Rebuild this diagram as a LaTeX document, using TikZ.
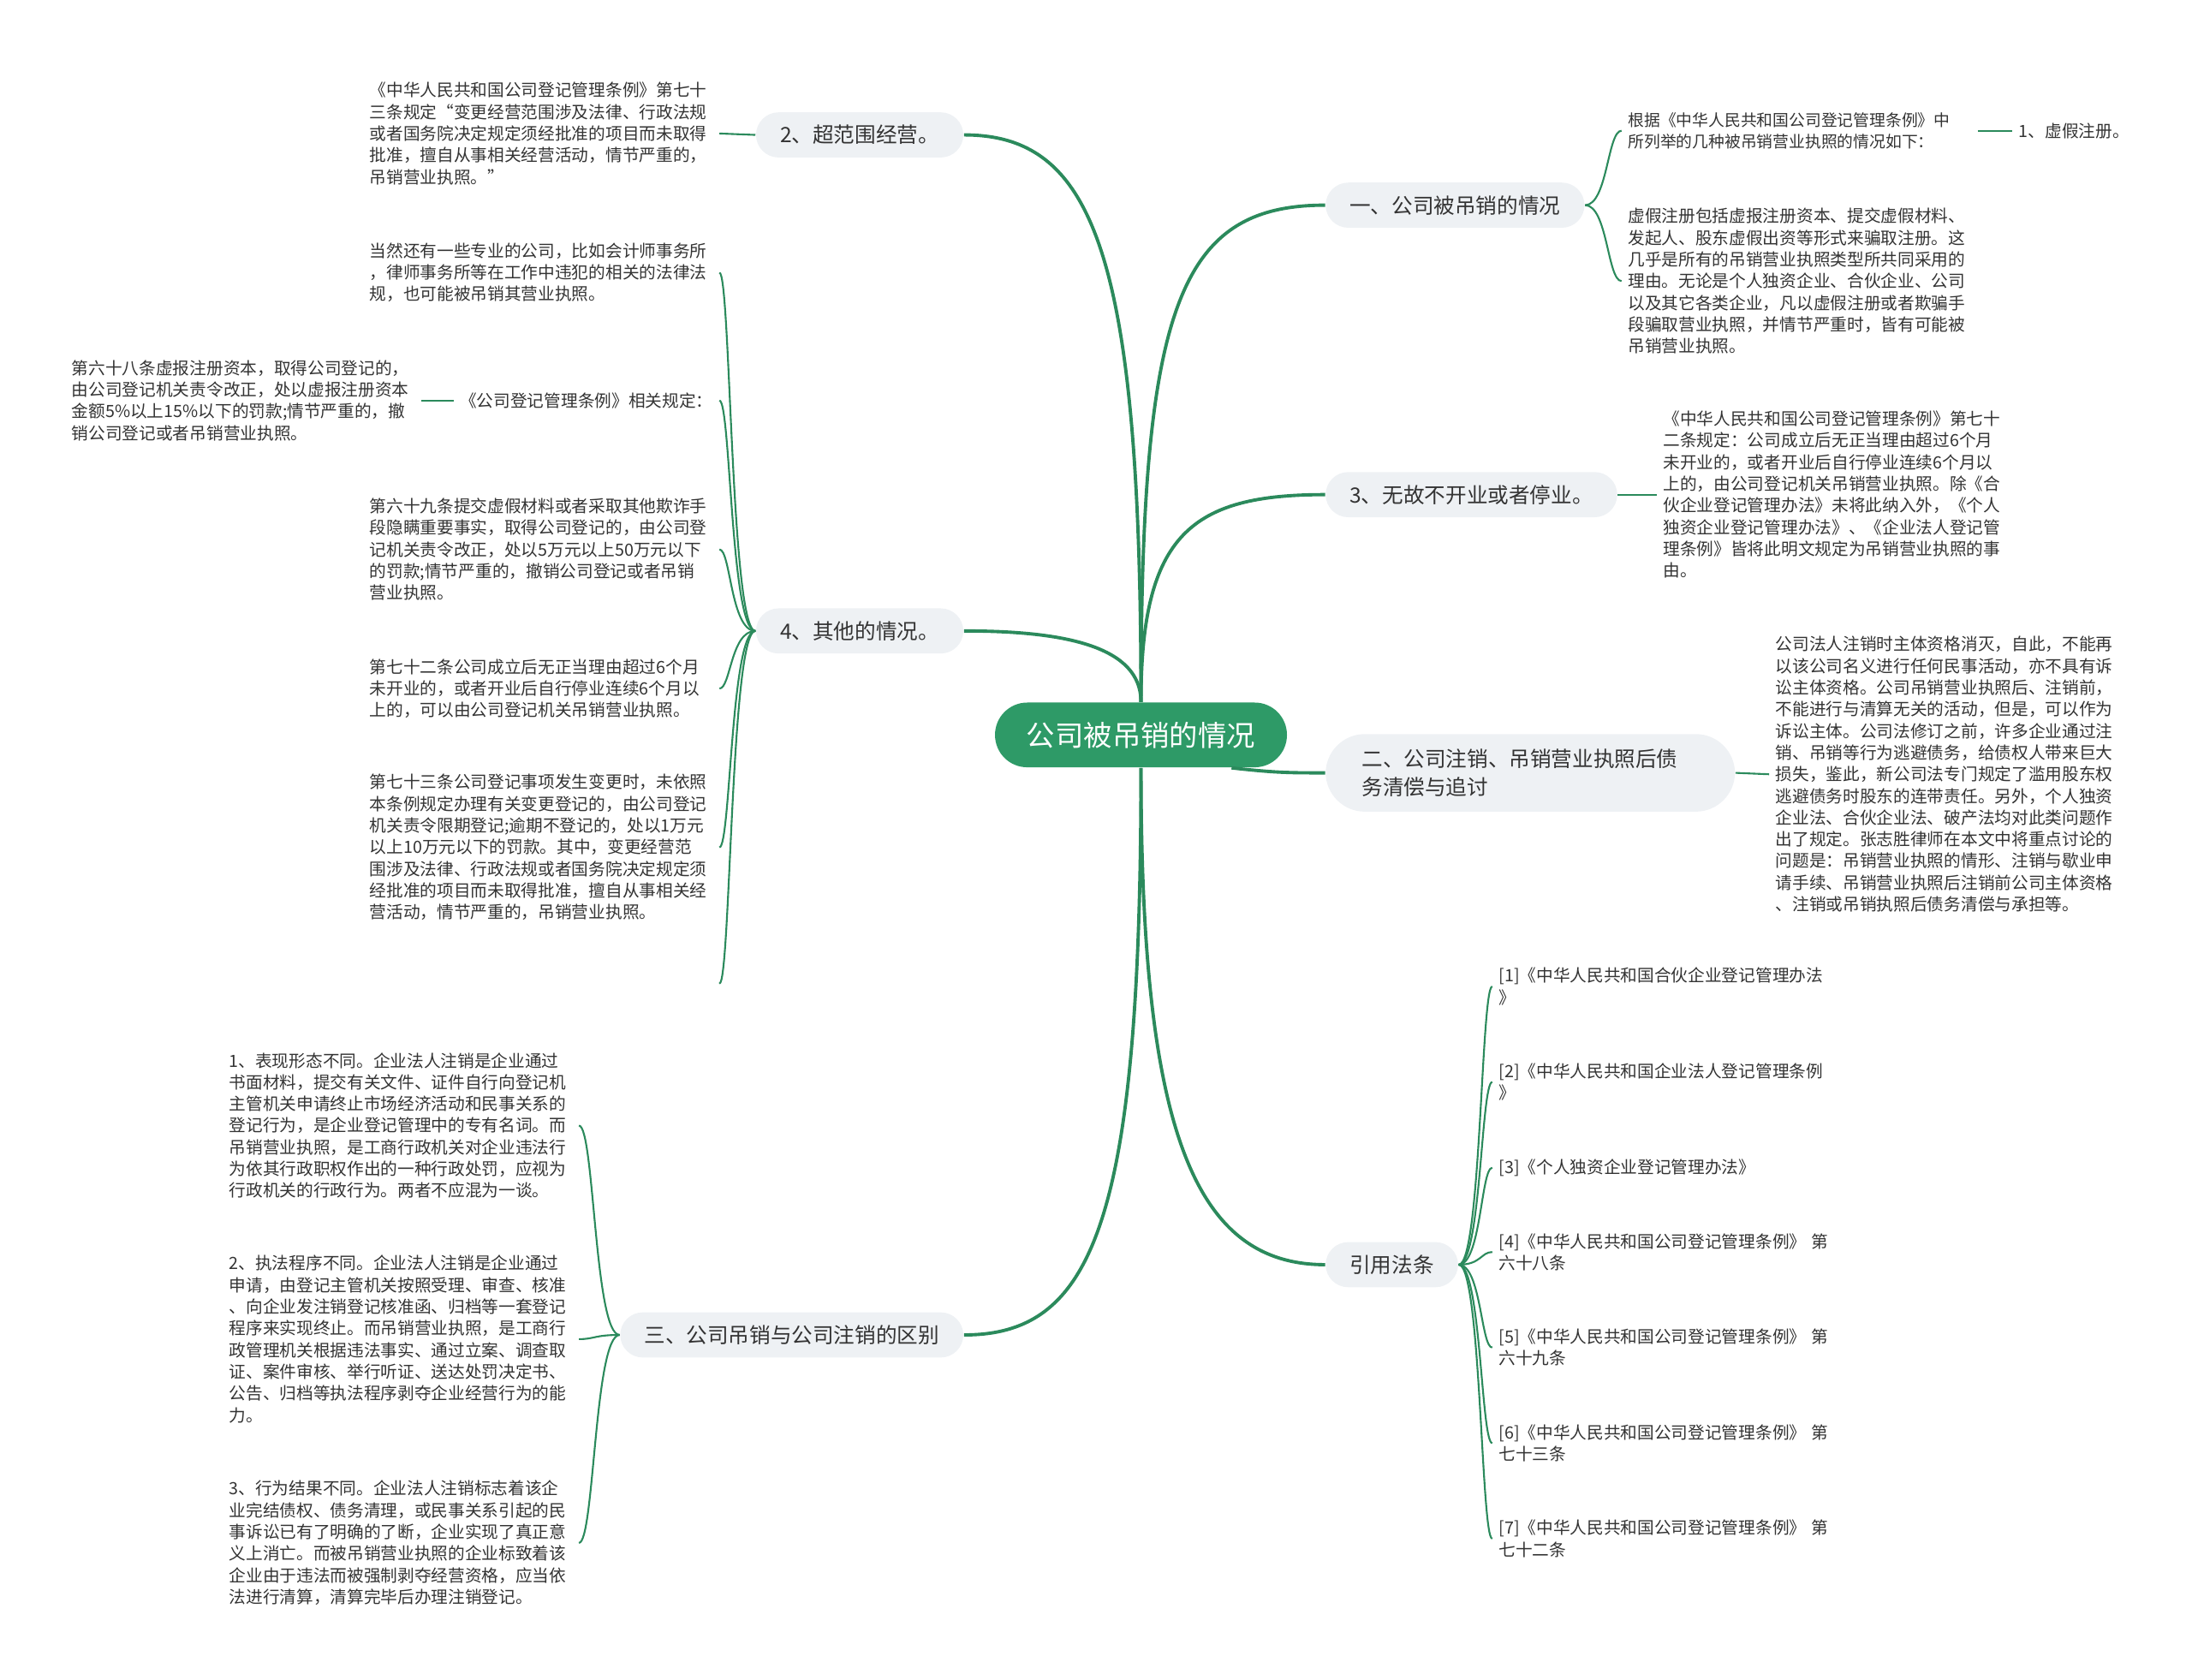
\documentclass[tikz,border=0pt]{standalone}
\usepackage{fontspec}
\setmainfont{Noto Sans CJK SC}
\definecolor{LG}{HTML}{2B8A5C}
\definecolor{RG}{HTML}{2E9A67}
\definecolor{BG}{HTML}{EEF1F4}
\definecolor{TX}{HTML}{333333}
\tikzset{
    RT/.style ={rectangle, rounded corners=10.7pt, fill=RG, text=white, font=\fontsize{9.5}{11}\selectfont, minimum width=97pt, minimum height=21.5pt},
    BR/.style ={rectangle, rounded corners=7.5pt, fill=BG, text=TX, font=\fontsize{7}{9.3}\selectfont, minimum height=15pt, inner xsep=8pt},
    LF/.style ={align=left, text=TX, font=\fontsize{5.6}{7.2}\selectfont, inner xsep=2pt, inner ysep=0pt, text width=#1},
    LF/.default=114pt,
    LS/.style ={text=TX, font=\fontsize{5.6}{7.2}\selectfont, inner xsep=2pt, inner ysep=0pt},
    LN/.style ={draw=LG, line width=1.1pt},
    SL/.style ={draw=LG, line width=0.6pt}}

\begin{document}
\begin{tikzpicture}[x=0.1641mm, y=-0.1641mm]
        \useasboundingbox (0,0) rectangle (1560,1195);
        % main topics
        \node[RT] (root) at (812,523) {公司被吊销的情况};
        \node[BR, anchor=west] (b1) at (943,146) {一、公司被吊销的情况};
        \node[BR, anchor=west] (b3) at (943,352) {3、无故不开业或者停业。};
        \node[BR, anchor=west, text width=112pt, inner xsep=12pt, inner ysep=5pt, rounded corners=13pt, align=left] (b2) at (943,550) {二、公司注销、吊销营业执照后债\\务清偿与追讨};
        \node[BR, anchor=west] (b4) at (943,900) {引用法条};
        \node[BR, anchor=east] (l2) at (686,96) {2、超范围经营。};
        \node[BR, anchor=east] (l4) at (686,449) {4、其他的情况。};
        \node[BR, anchor=east] (l3) at (686,950) {三、公司吊销与公司注销的区别};
        \draw[LN] (root.north) .. controls (812,220) and (838,146) .. (b1.west);
        \draw[LN] (root.north) .. controls (812,380) and (848,352) .. (b3.west);
        \draw[LN] (root.-20) .. controls (908,550) and (918,550) .. (b2.west);
        \draw[LN] (root.south) .. controls (812,800) and (848,900) .. (b4.west);
        \draw[LN] (root.north) .. controls (812,180) and (778,96) .. (l2.east);
        \draw[LN] (root.north) .. controls (812,460) and (758,449) .. (l4.east);
        \draw[LN] (root.south) .. controls (812,870) and (778,950) .. (l3.east);

        % right side
        \node[LF, anchor=west, font=\fontsize{5.35}{7.2}\selectfont] (c1a) at (1154,93) {根据《中华人民共和国公司登记管理条例》中\\所列举的几种被吊销营业执照的情况如下：};
        \node[LS, anchor=west] (x1) at (1432,93) {1、虚假注册。};
        \node[LF, anchor=west] (c1b) at (1154,200) {虚假注册包括虚报注册资本、提交虚假材料、\\发起人、股东虚假出资等形式来骗取注册。这\\几乎是所有的吊销营业执照类型所共同采用的\\理由。无论是个人独资企业、合伙企业、公司\\以及其它各类企业，凡以虚假注册或者欺骗手\\段骗取营业执照，并情节严重时，皆有可能被\\吊销营业执照。};
        \draw[SL] (b1.east) .. controls (1144,146) and (1144,93) .. (c1a.west);
        \draw[SL] (b1.east) .. controls (1144,146) and (1144,200) .. (c1b.west);
        \draw[SL] (c1a.east) -- (x1.west);

        \node[LF, anchor=west] (c3) at (1179,352) {《中华人民共和国公司登记管理条例》第七十\\二条规定：公司成立后无正当理由超过6个月\\未开业的，或者开业后自行停业连续6个月以\\上的，由公司登记机关吊销营业执照。除《合\\伙企业登记管理办法》未将此纳入外，《个人\\独资企业登记管理办法》、《企业法人登记管\\理条例》皆将此明文规定为吊销营业执照的事\\由。};
        \draw[SL] (b3.east) -- (c3.west);

        \node[LF, anchor=west] (c2) at (1259,551) {公司法人注销时主体资格消灭，自此，不能再\\以该公司名义进行任何民事活动，亦不具有诉\\讼主体资格。公司吊销营业执照后、注销前，\\不能进行与清算无关的活动，但是，可以作为\\诉讼主体。公司法修订之前，许多企业通过注\\销、吊销等行为逃避债务，给债权人带来巨大\\损失，鉴此，新公司法专门规定了滥用股东权\\逃避债务时股东的连带责任。另外，个人独资\\企业法、合伙企业法、破产法均对此类问题作\\出了规定。张志胜律师在本文中将重点讨论的\\问题是：吊销营业执照的情形、注销与歇业申\\请手续、吊销营业执照后注销前公司主体资格\\、注销或吊销执照后债务清偿与承担等。};
        \draw[SL] (b2.east) -- (c2.west);

        \node[LF, anchor=west] (e1) at (1062,702) {[1]《中华人民共和国合伙企业登记管理办法\\》};
        \node[LF, anchor=west] (e2) at (1062,770) {[2]《中华人民共和国企业法人登记管理条例\\》};
        \node[LF, anchor=west] (e3) at (1062,831) {[3]《个人独资企业登记管理办法》};
        \node[LF, anchor=west] (e4) at (1062,891) {[4]《中华人民共和国公司登记管理条例》 第\\六十八条};
        \node[LF, anchor=west] (e5) at (1062,959) {[5]《中华人民共和国公司登记管理条例》 第\\六十九条};
        \node[LF, anchor=west] (e6) at (1062,1027) {[6]《中华人民共和国公司登记管理条例》 第\\七十三条};
        \node[LF, anchor=west] (e7) at (1062,1095) {[7]《中华人民共和国公司登记管理条例》 第\\七十二条};
        \draw[SL] (b4.east) .. controls (1054,900) and (1054,702) .. (e1.west);
        \draw[SL] (b4.east) .. controls (1054,900) and (1054,770) .. (e2.west);
        \draw[SL] (b4.east) .. controls (1054,900) and (1054,831) .. (e3.west);
        \draw[SL] (b4.east) .. controls (1054,900) and (1054,891) .. (e4.west);
        \draw[SL] (b4.east) .. controls (1054,900) and (1054,959) .. (e5.west);
        \draw[SL] (b4.east) .. controls (1054,900) and (1054,1027) .. (e6.west);
        \draw[SL] (b4.east) .. controls (1054,900) and (1054,1095) .. (e7.west);

        % left side
        \node[LF, anchor=east] (a2) at (512,95) {《中华人民共和国公司登记管理条例》第七十\\三条规定“变更经营范围涉及法律、行政法规\\或者国务院决定规定须经批准的项目而未取得\\批准，擅自从事相关经营活动，情节严重的，\\吊销营业执照。”};
        \draw[SL] (l2.west) -- (a2.east);

        \node[LF, anchor=east] (d1) at (512,194) {当然还有一些专业的公司，比如会计师事务所\\，律师事务所等在工作中违犯的相关的法律法\\规，也可能被吊销其营业执照。};
        \node[LS, anchor=east] (d2) at (512,285) {《公司登记管理条例》相关规定：};
        \node[LF, anchor=east] (d2a) at (300,285) {第六十八条虚报注册资本，取得公司登记的，\\由公司登记机关责令改正，处以虚报注册资本\\金额5\%以上15\%以下的罚款;情节严重的，撤\\销公司登记或者吊销营业执照。};
        \node[LF, anchor=east] (d3) at (512,391) {第六十九条提交虚假材料或者采取其他欺诈手\\段隐瞒重要事实，取得公司登记的，由公司登\\记机关责令改正，处以5万元以上50万元以下\\的罚款;情节严重的，撤销公司登记或者吊销\\营业执照。};
        \node[LF, anchor=east] (d4) at (512,490) {第七十二条公司成立后无正当理由超过6个月\\未开业的，或者开业后自行停业连续6个月以\\上的，可以由公司登记机关吊销营业执照。};
        \node[LF, anchor=east] (d5) at (512,603) {第七十三条公司登记事项发生变更时，未依照\\本条例规定办理有关变更登记的，由公司登记\\机关责令限期登记;逾期不登记的，处以1万元\\以上10万元以下的罚款。其中，变更经营范\\围涉及法律、行政法规或者国务院决定规定须\\经批准的项目而未取得批准，擅自从事相关经\\营活动，情节严重的，吊销营业执照。};
        \coordinate (d6) at (512,700);
        \draw[SL] (l4.west) .. controls (520,449) and (520,194) .. (d1.east);
        \draw[SL] (l4.west) .. controls (520,449) and (520,285) .. (d2.east);
        \draw[SL] (l4.west) .. controls (520,449) and (520,391) .. (d3.east);
        \draw[SL] (l4.west) .. controls (520,449) and (520,490) .. (d4.east);
        \draw[SL] (l4.west) .. controls (520,449) and (520,603) .. (d5.east);
        \draw[SL] (l4.west) .. controls (520,449) and (520,700) .. (d6);
        \draw[SL] (d2.west) -- (d2a.east);

        \node[LF, anchor=east] (f1) at (412,801) {1、表现形态不同。企业法人注销是企业通过\\书面材料，提交有关文件、证件自行向登记机\\主管机关申请终止市场经济活动和民事关系的\\登记行为，是企业登记管理中的专有名词。而\\吊销营业执照，是工商行政机关对企业违法行\\为依其行政职权作出的一种行政处罚，应视为\\行政机关的行政行为。两者不应混为一谈。};
        \node[LF, anchor=east] (f2) at (412,953) {2、执法程序不同。企业法人注销是企业通过\\申请，由登记主管机关按照受理、审查、核准\\、向企业发注销登记核准函、归档等一套登记\\程序来实现终止。而吊销营业执照，是工商行\\政管理机关根据违法事实、通过立案、调查取\\证、案件审核、举行听证、送达处罚决定书、\\公告、归档等执法程序剥夺企业经营行为的能\\力。};
        \node[LF, anchor=east] (f3) at (412,1098) {3、行为结果不同。企业法人注销标志着该企\\业完结债权、债务清理，或民事关系引起的民\\事诉讼已有了明确的了断，企业实现了真正意\\义上消亡。而被吊销营业执照的企业标致着该\\企业由于违法而被强制剥夺经营资格，应当依\\法进行清算，清算完毕后办理注销登记。};
        \draw[SL] (l3.west) .. controls (423,950) and (423,801) .. (f1.east);
        \draw[SL] (l3.west) .. controls (423,950) and (423,953) .. (f2.east);
        \draw[SL] (l3.west) .. controls (423,950) and (423,1098) .. (f3.east);
    \end{tikzpicture}
\end{document}
